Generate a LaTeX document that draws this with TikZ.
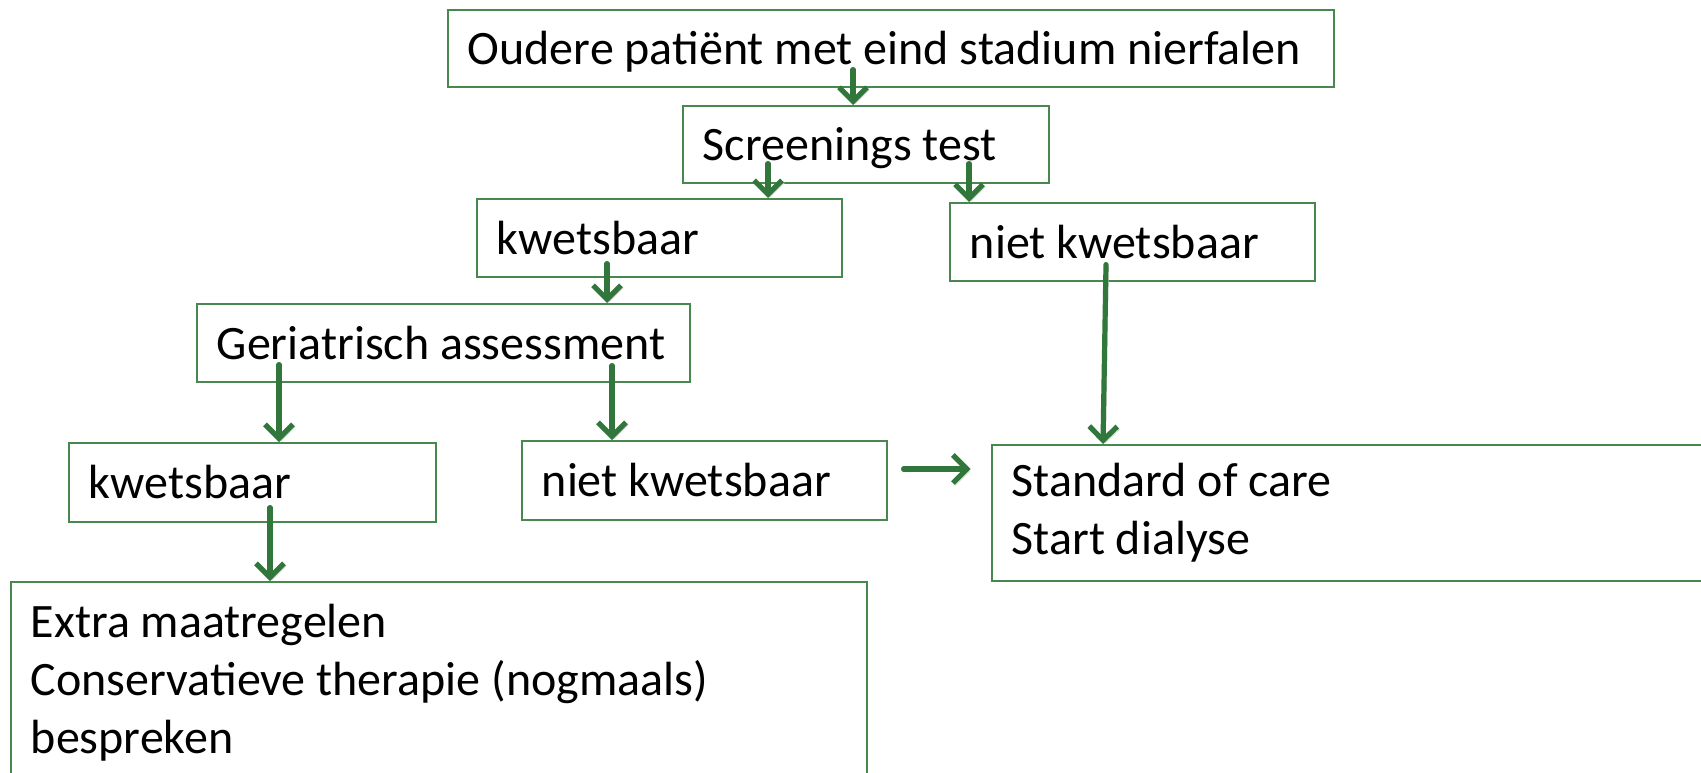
\documentclass[tikz,border=0pt]{standalone}
\usepackage{fontspec}
\setmainfont{Carlito}
\usetikzlibrary{arrows.meta}

\definecolor{pijlgroen}{RGB}{49,118,58}
\definecolor{randgroen}{RGB}{72,136,78}

\begin{document}
\begin{tikzpicture}[x=0.5pt, y=-0.5pt,
    font=\fontsize{24}{29}\selectfont,
    blok/.style={draw=randgroen, line width=0.8pt, anchor=north west,
      align=left, inner xsep=10pt, inner ysep=0pt,
      execute at begin node={\spaceskip=0pt\xspaceskip=0pt}},
    regel/.style={blok, text height=16.5pt, text depth=0pt, minimum height=38.5pt},
    pijl/.style={draw=pijlgroen, line width=2.6pt, line cap=round,
      -{Straight Barb[length=7pt,width=14pt]},
      preaction={draw=black!15, transform canvas={shift={(1.2pt,-1.2pt)}}}}]

    % page
    \useasboundingbox (0,0) rectangle (1701,772);
    \clip (0,0) rectangle (1701,772);
    \fill[white] (0,0) rectangle (1701,772);

    % --- BOXES ---
    \node[regel, text width=423pt] (oudere) at (447,9) {Oudere patiënt met eind stadium nierfalen};
    \node[regel, text width=163pt] (screening) at (682,105) {Screenings test};
    \node[regel, text width=162.5pt, minimum height=39pt] (kwets1) at (476,198) {kwetsbaar};
    \node[regel, text width=162.5pt, minimum height=39pt] (nietkw1) at (949,202) {niet kwetsbaar};
    \node[regel, text width=226.5pt, minimum height=39pt] (geriatrie) at (196,303) {Geriatrisch assessment};
    \node[regel, text width=163.5pt, minimum height=39.5pt] (kwets2) at (68,442) {kwetsbaar};
    \node[regel, text width=162.5pt, minimum height=39.5pt] (nietkw2) at (521,440) {niet kwetsbaar};

    % outcomes (run off the page)
    \node[blok, text width=345pt, minimum height=68pt] (standaard) at (991,444)
      {Standard of care\\Start dialyse};
    \node[blok, text width=408pt, minimum height=101pt] (maatregel) at (10,581)
      {Extra maatregelen\\Conservatieve therapie (nogmaals)\\bespreken};

    % --- ARROWS ---
    \draw[pijl] (oudere.south -| 853,0) ++(0,-18) -- (screening.north -| 853,0);
    \draw[pijl] (screening.south -| 768,0) ++(0,-20) -- (kwets1.north -| 768,0);
    \draw[pijl] (screening.south -| 969,0) ++(0,-20) -- (nietkw1.north -| 969,0);
    \draw[pijl] (kwets1.south -| 607,0) ++(0,-14) -- (geriatrie.north -| 607,0);
    \draw[pijl] (geriatrie.south -| 279,0) ++(0,-18) -- (kwets2.north -| 279,0);
    \draw[pijl] (geriatrie.south -| 612,0) ++(0,-17) -- (nietkw2.north -| 612,0);
    \draw[pijl] (nietkw1.south -| 1106,0) ++(0,-17) -- (standaard.north -| 1103,0);
    \draw[pijl] (kwets2.south -| 270,0) ++(0,-15) -- (maatregel.north -| 270,0);
    \draw[pijl] (nietkw2.east |- 0,469) ++(16,0) -- ++(67,0);
\end{tikzpicture}
\end{document}
